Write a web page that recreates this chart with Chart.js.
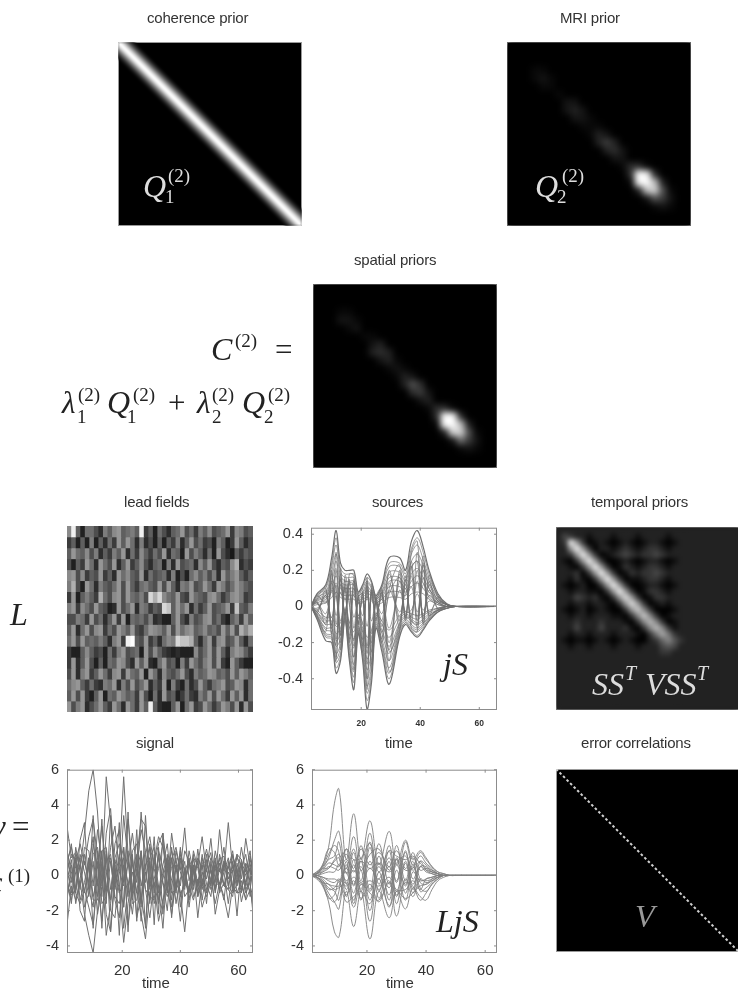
<!DOCTYPE html>
<html>
<head>
<meta charset="utf-8">
<script src="https://cdn.jsdelivr.net/npm/chart.js@4"></script>
<style>
  html, body { margin: 0; background: #fff; }
  #page { position: relative; width: 738px; height: 991px; overflow: hidden; filter: blur(0.45px); }
  .box { position: absolute; overflow: hidden; outline: 1px solid #999; outline-offset: -1px; }
  .box canvas, .plot canvas { display: block; }
  .plot { position: absolute; }
  .t { position: absolute; white-space: pre; line-height: 1; }
  .title { font-family: "Liberation Sans", sans-serif; color: #333; font-size: 15px; letter-spacing: -0.2px; }
  .math { font-family: "Liberation Serif", serif; }
  .it { font-style: italic; }
</style>
</head>
<body>
<div id="page"></div>
<script>
// grey levels are single hex digits, one character per cell
const leadFieldRows = [
  '9e62775386 9a6786e462 75367a5748 69567a49856',
  '4626282637 4a6a738352 6264836a57 4528624a635',
  '6a76958364 86a3749647 5a3762a586 372a5316465',
  '5264a73a75 a36a469536 7283a56739 6a53659b354',
  '9a59465a46 3a7965a375 6738252796 8583a68a646',
  '8b52a73865 7a5a647865 a5a6387a56 a74a857a865',
  '4a26864b75 9a5a7685db d976a54a76 59a7469a845',
  '8a4975a652 3a57a38746 5dc6a7a374 6a567a4c658',
  '55874a5736 a4a2767583 4226a53856 9a5742684a6',
  '6a37a59a47 5a86a547a9 86a5a79a67 9675a6a5b9b',
  '7a5a676863 8a4ef65a46 3798dccb63 7a49a56a637',
  '4226964527 48a5672a59 6432322295 7a5a638a964',
  '4a36a52627 6a953a6a32 7a56284a75 8a5a42a6422',
  '5a38a46a74 9a4a76a2a7 39657a5386 7a9675a6a86',
  '79a6474387 a385a57a36 4a2842735a 6478a56a937',
  '6a5a426a27 6a8674a527 3a56247438 6a5a74a6a37',
  'a58a357a64 a73a74a6e6 3226a27a45 a746a85a3a5'
];
const leadGreys = [15,25,32,45,60,78,95,110,125,138,150,175,195,215,240,255];

const mriRows = [
  '0000000000 0000000000 000',
  '0000000000 0000000000 000',
  '0000000000 0000000000 000',
  '0001100000 0000000000 000',
  '0001210000 0000000000 000',
  '0000110000 0000000000 000',
  '0000001000 0000000000 000',
  '0000000220 0000000000 000',
  '0000000232 0000000000 000',
  '0000000022 1000000000 000',
  '0000000001 1100000000 000',
  '0000000000 1320000000 000',
  '0000000000 0353000000 000',
  '0000000000 0034200000 000',
  '0000000000 0002200000 000',
  '0000000000 0000144100 000',
  '0000000000 000004fd40 000',
  '0000000000 000001dfa3 000',
  '0000000000 0000003ab6 100',
  '0000000000 0000000265 200',
  '0000000000 0000000012 100',
  '0000000000 0000000000 000',
  '0000000000 0000000000 000'
];

const spatialRows = [
  '0000000000 0000000000 000',
  '0000000000 0000000000 000',
  '0000000000 0000000000 000',
  '0001100000 0000000000 000',
  '0002210000 0000000000 000',
  '0000120000 0000000000 000',
  '0000001100 0000000000 000',
  '0000000230 0000000000 000',
  '0000000343 0000000000 000',
  '0000000023 1000000000 000',
  '0000000001 2100000000 000',
  '0000000000 1320000000 000',
  '0000000000 0364000000 000',
  '0000000000 0045200000 000',
  '0000000000 0002300000 000',
  '0000000000 0000144100 000',
  '0000000000 000004fe40 000',
  '0000000000 000001efa3 000',
  '0000000000 0000003bb6 100',
  '0000000000 0000000275 200',
  '0000000000 0000000012 100',
  '0000000000 0000000000 000',
  '0000000000 0000000000 000'
];
const imageGreys = [0,9,20,34,46,60,80,110,140,165,190,210,230,245,252,255];

const temporalRows = [
  '2222222222 2222222222 2222222222',
  '2432212221 2221222212 2222222222',
  '23e9301210 1210122101 2222222222',
  '229e930221 2321233212 2222222222',
  '2239e93012 3432334322 2222222222',
  '21039e9300 1210122101 2222222222',
  '221039e930 1321233212 2222222222',
  '2223039e93 0132334322 2222222222',
  '22131039e9 3011233212 2222222222',
  '210120039e 9300122101 2222222222',
  '2212211039 e930133212 2222222222',
  '2224323103 9d93013322 2222222222',
  '2212212210 39d9301212 2222222222',
  '2101201210 039c830001 2222222222',
  '2212212221 1038c83012 2222222222',
  '2223222322 21038b8301 2222222222',
  '2224222422 231038b831 2222222222',
  '2212212221 2221037a73 2222222222',
  '2101101210 1210023685 3222222222',
  '2212212221 2221222454 2222222222',
  '2222222222 2222222332 2222222222',
  '2222222222 2222222222 2222222222',
  '2222222222 2222222222 2222222222',
  '2222222222 2222222222 2222222222',
  '2222222222 2222222222 2222222222',
  '2222222222 2222222222 2222222222',
  '2222222222 2222222222 2222222222',
  '2222222222 2222222222 2222222222',
  '2222222222 2222222222 2222222222',
  '2222222222 2222222222 2222222222'
];
const temporalGreys = [0,14,34,54,72,88,102,119,136,153,170,187,204,221,238,255];

// both diagonal images: corner to corner on a unit scale
const diagonal = [{x: 0, y: 0}, {x: 1, y: 1}];
// first dataset is painted last, so narrowest and brightest first
const coherenceGreys = ['#fff', '#e0e0e0', '#b8b8b8', '#8a8a8a', '#5c5c5c', '#333', '#141414'];
const coherenceWidths = [3, 6, 9, 12, 15.5, 19, 23];

const sourceTicksX = [20, 40, 60];
const sourceTicksY = [0.4, 0.2, 0, -0.2, -0.4];
const signalTicksX = [20, 40, 60];
const signalTicksY = [6, 4, 2, 0, -2, -4];

const sourceTime = [3,5,8,10,11.5,13,14.5,16,17.5,19,20.5,22,23.5,25,27,29.5,33,35,37,39,41,43,46,49,52,66];
const sourceCurves = [
  [0,.07,.12,.27,.42,.24,.20,.20,.20,.08,.12,.18,.14,.06,.12,.27,.27,.20,.36,.42,.33,.20,.07,.015,0,0],
  [0,-.07,-.19,-.20,-.37,-.30,-.08,-.30,-.46,-.15,-.30,-.57,-.42,-.12,-.25,-.43,-.17,-.10,-.14,-.17,-.13,-.08,-.03,-.01,0,0],
  [0,.065,.11,.24,.38,.21,.18,.18,.18,.07,.11,.16,.13,.05,.11,.24,.24,.18,.32,.38,.30,.18,.06,.01,0,0],
  [0,.06,.10,.22,.34,.19,.16,.16,.16,.06,.10,.14,.11,.05,.10,.22,.22,.16,.29,.34,.26,.16,.06,.01,0,0],
  [0,.05,.08,.19,.29,.17,.14,.14,.14,.06,.08,.13,.10,.04,.08,.19,.19,.14,.25,.29,.23,.14,.05,.01,0,0],
  [0,.04,.07,.16,.25,.14,.12,.12,.12,.05,.07,.11,.08,.04,.07,.16,.16,.12,.22,.25,.20,.12,.04,.01,0,0],
  [0,.035,.06,.14,.21,.12,.10,.10,.10,.04,.06,.09,.07,.03,.06,.14,.14,.10,.18,.21,.16,.10,.03,.01,0,0],
  [0,.03,.05,.11,.17,.10,.08,.08,.08,.03,.05,.07,.06,.02,.05,.11,.11,.08,.14,.17,.13,.08,.03,.01,0,0],
  [0,.02,.04,.08,.13,.07,.06,.06,.06,.02,.04,.05,.04,.02,.04,.08,.08,.06,.11,.13,.10,.06,.02,0,0,0],
  [0,.01,.02,.05,.08,.05,.04,.04,.04,.02,.02,.04,.03,.01,.02,.05,.05,.04,.07,.08,.07,.04,.01,0,0,0],
  [0,-.065,-.17,-.18,-.34,-.28,-.07,-.28,-.42,-.14,-.28,-.52,-.39,-.11,-.23,-.40,-.16,-.09,-.13,-.16,-.12,-.07,-.03,-.01,0,0],
  [0,-.06,-.16,-.17,-.31,-.26,-.07,-.26,-.39,-.13,-.26,-.48,-.36,-.10,-.21,-.37,-.14,-.09,-.12,-.14,-.11,-.07,-.03,-.01,0,0],
  [0,-.055,-.15,-.16,-.29,-.23,-.06,-.23,-.36,-.12,-.23,-.44,-.33,-.09,-.20,-.34,-.13,-.08,-.11,-.13,-.10,-.06,-.02,-.01,0,0],
  [0,-.05,-.13,-.14,-.26,-.21,-.06,-.21,-.32,-.11,-.21,-.40,-.29,-.08,-.18,-.30,-.12,-.07,-.10,-.12,-.09,-.06,-.02,-.01,0,0],
  [0,-.045,-.12,-.12,-.22,-.18,-.05,-.18,-.28,-.09,-.18,-.35,-.25,-.07,-.15,-.26,-.10,-.06,-.08,-.10,-.08,-.05,-.02,0,0,0],
  [0,-.04,-.10,-.10,-.19,-.15,-.04,-.15,-.23,-.08,-.15,-.29,-.21,-.06,-.13,-.22,-.09,-.05,-.07,-.09,-.07,-.04,-.02,0,0,0],
  [0,-.03,-.08,-.08,-.15,-.12,-.03,-.12,-.18,-.06,-.12,-.23,-.17,-.05,-.10,-.17,-.07,-.04,-.06,-.07,-.05,-.03,-.01,0,0,0],
  [0,-.02,-.06,-.06,-.11,-.09,-.02,-.09,-.14,-.05,-.09,-.17,-.13,-.04,-.08,-.13,-.05,-.03,-.04,-.05,-.04,-.02,-.01,0,0,0],
  [0,.05,.10,-.15,.30,-.20,.15,-.20,.15,-.10,.08,-.40,.10,-.08,.09,-.30,.20,-.07,.25,-.12,.23,-.05,.05,.01,0,0],
  [0,-.05,-.14,.20,-.28,.18,-.06,.15,-.35,.06,-.22,.14,-.32,.05,-.18,.20,-.12,.15,-.10,.30,-.09,.14,-.02,0,0,0],
  [0,.04,.08,-.10,.20,-.14,.11,-.12,.10,-.07,.05,-.26,.07,-.05,.06,-.20,.14,-.05,.17,-.08,.16,-.03,.03,.01,0,0],
  [0,-.03,-.09,.13,-.18,.12,-.04,.10,-.22,.04,-.14,.09,-.20,.03,-.11,.13,-.08,.10,-.06,.20,-.06,.09,-.01,0,0,0],
  [0,.06,.02,.18,-.10,.16,-.05,.14,-.12,.05,-.10,.12,-.15,.04,-.08,.18,-.06,.14,.22,-.06,.24,.10,.04,.01,0,0],
  [0,-.02,.06,-.12,.12,-.16,.10,-.18,.14,-.09,.07,-.22,.09,-.07,.08,-.24,.18,-.06,-.05,.14,-.05,.06,.02,0,0,0],
  [0,.02,-.04,.09,-.05,.08,-.02,.07,-.06,.02,-.05,.06,-.08,.02,-.04,.09,-.03,.07,.11,-.03,.12,.05,.02,0,0,0],
  [0,-.01,.03,-.06,.06,-.08,.05,-.09,.07,-.05,.03,-.11,.05,-.04,.04,-.12,.09,-.03,-.02,.07,-.02,.03,.01,0,0,0],
  [0,.03,-.10,.14,.10,-.24,.17,.02,-.28,.07,.10,-.46,.12,.03,-.20,.10,.23,-.08,.30,.36,-.10,.17,.05,.01,0,0],
  [0,-.04,.09,-.16,-.30,.21,-.07,.18,.17,-.13,-.25,.16,-.36,.05,.10,-.36,-.14,.17,-.12,-.14,.28,-.07,-.02,0,0,0],
  [0,.02,-.07,.10,.06,-.16,.12,.01,-.19,.05,.07,-.32,.08,.02,-.14,.07,.16,-.06,.21,.25,-.07,.12,.03,0,0,0],
  [0,-.03,.06,-.11,-.21,.15,-.05,.13,.12,-.09,-.18,.11,-.25,.03,.07,-.25,-.10,.12,-.08,-.10,.20,-.05,-.01,0,0,0]
];

const signalTime = [1,2.5,4,5.5,7,8.5,10,11.5,13,14.5,16,17.5,19,20.5,22,23.5,25,26.5,28,29.5,31,32.5,34,35.5,37,38.5,40,41.5,43,44.5,46,47.5,49,50.5,52,53.5,55,56.5,58,59.5,61,62.5,64,65];
const signalCurves = [
  [2.8,1.0,1.3,.4,2.4,4.8,6.0,3.6,-.4,5.6,3.0,-.6,.9,5.6,1.2,-.8,1.0,3.2,2.8,-.6,.8,2.2,1.6,.4,1.4,.2,1.2,-.4,.6,.9,-.5,.7,.8,-.3,.4,.9,1.1,-.2,.3,1.0,.6,-.4,.9,.2],
  [-2.8,-.6,-1.4,-.3,-2.2,-3.4,-4.4,-2.0,.6,-3.4,-1.6,.4,-.8,-3.8,-1.6,.2,-1.0,-2.2,-3.6,-.9,-.4,-2.6,-1.4,-.6,-2.2,-.4,-1.0,-3.2,-.6,-1.4,-.2,-1.8,-.9,-.2,-1.6,-.4,-1.2,-2.4,-.6,-1.0,-.3,-1.4,-.8,-1.8],
  [1.2,-.4,.8,1.8,.6,2.2,3.2,1.0,-1.2,2.4,3.8,.2,-1.0,3.4,.8,-1.4,.4,2.6,1.4,-.8,.6,1.8,2.4,.2,.9,1.6,.3,2.7,-.3,1.0,.6,2.2,.2,2.1,-.4,2.6,.3,3.0,.4,1.2,-.2,2.1,.5,1.0],
  [-1.4,.6,-1.0,-1.6,-.8,-1.8,-2.8,-.4,1.4,-2.2,-3.2,-.2,1.2,-3.0,-.6,1.0,-2.4,-1.2,-2.8,.8,-1.6,-.6,-3.0,.4,-1.8,-.4,-2.6,.2,-1.4,.4,-2.4,-.2,-1.0,.6,-2.2,-.8,.2,-1.6,.3,-2.3,.6,-1.0,-.4,-2.2],
  [.8,1.6,.4,-.8,1.6,1.4,-.6,2.6,.8,-.9,1.6,2.8,.2,-.6,3.2,.6,-.4,3.6,.4,1.8,-.6,.4,1.8,-.6,2.4,.6,-.6,1.4,.8,-.8,1.5,-.4,1.2,-.6,1.4,.2,1.6,-.6,1.2,-.2,1.6,.2,1.4,-.2],
  [-.6,-1.4,.2,1.0,-1.8,-1.0,.8,-2.2,-.6,1.2,-2.0,-2.4,.4,1.0,-2.8,-.8,.8,-2.6,.6,-1.6,1.0,-.6,-1.6,1.2,-1.0,-.8,1.0,-1.2,-.8,1.2,-1.0,.6,-1.6,.8,-.6,-.4,-1.4,.8,-.9,.4,-1.5,-.4,-.9,.8],
  [1.4,.2,-1.0,1.2,.2,-1.2,1.8,.4,2.8,.2,-1.4,1.8,2.6,-.4,.6,2.4,.4,-1.6,1.2,2.2,.4,-1.0,.6,1.8,-.8,1.4,.2,-.8,1.4,.2,-.6,1.2,-.2,1.0,.4,-.8,.8,.4,1.4,-.6,.4,1.2,-.4,.9],
  [-1.0,-.2,1.2,-1.4,-.4,1.0,-1.2,-.2,-2.6,.2,1.0,-1.4,-2.4,.6,-.4,-2.2,.2,1.4,-.8,-2.4,-.2,1.0,-.4,-2.0,1.0,-1.6,-.2,.8,-1.8,.2,.8,-1.4,.4,-.8,-.2,1.0,-.6,-.8,-1.2,.7,-.6,-1.3,.6,-.8],
  [.4,-1.0,1.6,.2,-1.0,.6,2.2,-1.2,1.4,1.6,-.8,1.0,1.8,.4,-1.2,1.4,1.8,-.6,.6,1.0,1.6,-1.4,.2,1.0,.4,-1.0,1.4,.2,.9,-.6,1.0,.4,1.5,.2,-.8,1.2,.2,1.0,-.6,1.2,.9,-.6,1.1,.4],
  [-.3,.9,-1.6,-.2,1.2,-.8,-1.8,1.4,-1.6,-1.2,.8,-1.2,-1.6,-.2,1.4,-1.6,-1.4,.8,-.8,-1.2,-1.4,1.2,-.4,-1.2,-.2,1.0,-1.2,-.4,-.9,.6,-1.2,-.4,-1.2,-.4,1.0,-1.0,-.4,-.8,.8,-1.0,-.9,.6,-1.2,-.6],
  [.2,1.2,.9,-.6,.8,-.4,1.2,1.6,-.6,.8,1.2,-.8,.6,1.6,-.8,1.0,-1.0,1.2,-.4,1.6,-1.0,1.4,.4,-1.0,1.0,-.6,.8,.4,-1.0,1.4,.4,-.8,.6,1.3,-1.0,.7,-.6,.4,1.1,.3,-1.0,.7,.2,-.4],
  [-.5,-1.1,-.8,.6,-.9,.5,-1.4,-1.4,.8,-.6,-1.4,.9,-.5,-1.8,1.0,-1.2,1.2,-1.4,.2,-1.4,1.2,-1.6,-.2,1.0,-1.4,.6,-1.0,-.6,.8,-1.2,-.6,1.0,-.5,-1.2,.8,-.9,.7,-.6,-1.0,-.5,.9,-.8,-.3,.5],
  [.6,1.8,-.8,2.0,3.0,-.8,3.4,-.6,3.2,-1.6,3.4,-.4,3.0,-1.8,3.6,-1.0,2.6,-1.8,3.4,-.6,2.2,-2.2,2.4,-1.0,1.6,-.8,1.6,-.6,1.0,-.4,.8,-.6,.9,-.4,.6,-.5,.8,-.2,.5,-.4,.7,.2,-.3,.4],
  [-.2,-1.6,1.0,-2.0,-2.6,1.0,-3.0,.8,-3.0,1.4,-3.2,.6,-3.4,1.6,-3.2,1.2,-2.6,1.4,-3.0,1.0,-2.8,1.6,-2.2,.8,-2.4,.6,-1.8,.4,-.9,.6,-1.2,.2,-.8,.3,-.9,.4,-.6,.2,-.7,.3,-.8,.1,.4,-.6]
];

const ljsTime = [1,3,5,7,9,10.5,13,15.5,18,21,24,27.5,30,33,35.5,38,40,42,44,46,48,50,64];
const ljsCurves = [
  [0,.2,.6,1.6,4.1,4.9,.9,3.5,.9,3.1,.6,2.5,.6,2.0,.9,1.4,1.0,.5,.2,.1,0,0,0],
  [0,-.2,-.6,-1.5,-3.2,-3.5,-.9,-2.9,-.9,-3.6,-.9,-2.4,-.9,-1.9,-.7,-1.2,-1.4,-.8,-.3,-.1,0,0,0],
  [0,.2,.5,1.0,2.0,2.5,.1,1.5,-.3,2.4,-.5,1.7,-.4,1.9,.6,1.3,.9,.5,.2,.1,0,0,0],
  [0,-.1,-.4,-1.0,-1.5,-1.9,.8,-1.6,1.0,-2.0,1.1,-1.4,1.0,-.6,.8,-.9,-.7,-.4,-.1,0,0,0,0],
  [0,.1,.5,1.2,1.7,1.3,-1.2,.9,-1.4,1.6,-1.3,.8,-1.6,.7,-1.0,.5,.5,.2,.1,0,0,0,0],
  [0,-.1,-.5,-1.2,-1.5,-.9,1.5,-.6,1.7,-.8,1.8,-.5,1.7,-.3,1.3,-.2,-.3,-.2,0,0,0,0,0],
  [0,.1,.4,.9,1.1,1.9,-.5,1.3,-.8,1.9,-.9,1.4,-1.2,1.4,-.8,.8,.6,.3,.1,0,0,0,0],
  [0,-.1,-.3,-.7,-.9,-1.4,.6,-1.0,.8,-1.4,.7,-1.1,.9,-1.0,.5,-.7,-.9,-.5,-.2,0,0,0,0],
  [0,.1,.3,.7,.6,.5,1.2,.4,1.5,.6,1.3,.5,1.4,.4,1.0,.3,.4,.3,.1,0,0,0,0],
  [0,-.1,-.3,-.8,-.7,-.4,-1.1,-.3,-1.3,-.5,-1.5,-.3,-2.3,-.2,-1.2,-.2,-.4,-.3,-.1,0,0,0,0],
  [0,.1,.2,.4,.8,1.0,-.8,.6,-.9,.8,-.8,.5,-.9,.8,-.5,.5,.3,.2,.1,0,0,0,0],
  [0,0,-.2,-.5,-.6,-.6,.4,-.5,.5,-.9,.5,-.7,.6,-.5,.6,-.4,-.5,-.3,-.1,0,0,0,0],
  [0,0,.2,.5,.4,.3,.9,.2,.8,.4,.7,.2,.7,1.1,.3,.8,.3,.1,0,0,0,0,0],
  [0,0,-.1,-.3,-.4,-.2,-.6,-.1,-.5,-.3,-.6,-.1,-.8,-.8,-.3,-.8,-.2,-.1,0,0,0,0,0],
  [0,0,.1,.2,.2,.6,-.3,.3,-.4,.4,-.2,1.0,-.3,1.3,-.2,.5,.2,.1,0,0,0,0,0],
  [0,0,-.1,-.2,-.2,-.3,.2,-1.4,.3,-2.6,.2,-1.8,.3,-1.4,.2,-.3,-.2,-.1,0,0,0,0,0],
  [0,.1,.6,1.5,1.3,.6,1.5,.9,1.0,1.8,.2,1.4,1.1,.9,1.1,.7,.4,.2,.1,0,0,0,0],
  [0,-.1,-.5,-1.3,-1.1,-.3,-1.5,-1.2,-.9,-1.6,-.2,-1.7,-.9,-1.3,-1.0,-.6,-.5,-.2,-.1,0,0,0,0],
  [0,.1,.4,.4,.9,1.2,.4,2.2,.3,1.2,1.5,.3,.9,.3,.4,1.1,.7,.4,.1,0,0,0,0],
  [0,-.1,-.4,-.5,-.8,-.7,-.4,-1.8,-.5,-1.0,-1.4,-.4,-1.1,-.4,-.6,-1.4,-1.0,-.5,-.2,0,0,0,0]
];

function greyColor(digit, levels) {
  const v = levels[parseInt(digit, 16)];
  return `rgb(${v},${v},${v})`;
}

const page = document.getElementById('page');

function addText(x, baseline, str, size, color, italic) {
  const el = document.createElement('div');
  el.className = 't math' + (italic ? ' it' : '');
  el.textContent = str;
  el.style.left = x + 'px';
  el.style.top = (baseline - size * 0.84) + 'px';
  el.style.fontSize = size + 'px';
  el.style.color = color;
  page.appendChild(el);
}

function addTitle(x, baseline, str) {
  const el = document.createElement('div');
  el.className = 't title';
  el.textContent = str;
  el.style.left = x + 'px';
  el.style.top = (baseline - 12.8) + 'px';
  page.appendChild(el);
}

function imageBox(left, top, size, bg, blur) {
  const box = document.createElement('div');
  box.className = 'box';
  box.style.cssText = `left:${left}px;top:${top}px;width:${size}px;height:${size}px;background:${bg}`;
  const canvas = document.createElement('canvas');
  canvas.width = size;
  canvas.height = size;
  canvas.style.filter = `blur(${blur}px)`;
  box.appendChild(canvas);
  page.appendChild(box);
  return canvas;
}

// image panels: one stacked bar per column, one dataset per row
function heatmap(rows, levels, left, top, size, bg, blur) {
  const clean = rows.map(r => r.replace(/ /g, ''));
  const cols = Math.max(...clean.map(r => r.length));
  const labels = Array.from({length: cols}, (_, i) => i);
  new Chart(imageBox(left, top, size, bg, blur), {
    type: 'bar',
    data: {
      labels: labels,
      datasets: clean.map(r => ({
        data: labels.map(() => 1),
        backgroundColor: labels.map(i => greyColor(r[i] || '0', levels)),
        barPercentage: 1,
        categoryPercentage: 1
      }))
    },
    options: {
      responsive: false,
      animation: false,
      layout: {padding: 0},
      plugins: {legend: {display: false}, tooltip: {enabled: false}},
      scales: {
        x: {stacked: true, display: false},
        y: {stacked: true, display: false, reverse: true, min: 0, max: rows.length}
      }
    }
  });
}

function diagonalImage(datasets, left, top, size, blur) {
  new Chart(imageBox(left, top, size, '#000', blur), {
    type: 'scatter',
    data: {datasets: datasets},
    options: {
      responsive: false,
      animation: false,
      layout: {padding: 0},
      plugins: {legend: {display: false}, tooltip: {enabled: false}},
      scales: {
        x: {display: false, min: 0, max: 1},
        y: {display: false, min: 0, max: 1, reverse: true}
      }
    }
  });
}

// gnuplot style frame with the ticks pointing inwards on all four sides
const framePlugin = {
  id: 'frame',
  afterDatasetsDraw(chart) {
    const {ctx, chartArea: a, scales} = chart;
    ctx.save();
    ctx.strokeStyle = '#8c8c8c';
    ctx.lineWidth = 1;
    ctx.strokeRect(a.left + .5, a.top + .5, a.right - a.left - 1, a.bottom - a.top - 1);
    ctx.beginPath();
    scales.x.ticks.forEach(t => {
      const px = scales.x.getPixelForValue(t.value);
      ctx.moveTo(px, a.bottom); ctx.lineTo(px, a.bottom - 3);
      ctx.moveTo(px, a.top); ctx.lineTo(px, a.top + 3);
    });
    scales.y.ticks.forEach(t => {
      const py = scales.y.getPixelForValue(t.value);
      ctx.moveTo(a.left, py); ctx.lineTo(a.left + 3, py);
      ctx.moveTo(a.right, py); ctx.lineTo(a.right - 3, py);
    });
    ctx.stroke();
    ctx.restore();
  }
};

function linePlot(o) {
  const wrap = document.createElement('div');
  wrap.className = 'plot';
  const ml = 50, mt = 8, mr = 8, mb = 32;
  wrap.style.cssText = `left:${o.left - ml}px;top:${o.top - mt}px`;
  const canvas = document.createElement('canvas');
  canvas.width = o.width + ml + mr;
  canvas.height = o.height + mt + mb;
  wrap.appendChild(canvas);
  page.appendChild(wrap);
  new Chart(canvas, {
    type: 'scatter',
    plugins: [framePlugin],
    data: {
      datasets: o.curves.map((c, k) => ({
        data: c.map((v, i) => ({x: o.time[i], y: v})),
        showLine: true,
        pointRadius: 0,
        borderColor: o.color,
        borderWidth: k < o.heavy ? o.lineWidth * 1.7 : o.lineWidth,
        tension: o.tension
      }))
    },
    options: {
      responsive: false,
      animation: false,
      layout: {padding: {top: mt, right: mr, left: 0, bottom: 0}},
      plugins: {legend: {display: false}, tooltip: {enabled: false}},
      scales: {
        x: {
          type: 'linear',
          min: o.xMin, max: o.xMax,
          afterBuildTicks: s => { s.ticks = o.xTicks.map(v => ({value: v})); },
          afterFit: s => { s.height = mb; },
          grid: {display: false},
          border: {display: false},
          ticks: {
            autoSkip: false, maxRotation: 0, padding: o.xPad, color: '#333',
            font: {family: 'Liberation Sans', size: o.xFont, weight: o.xWeight}
          }
        },
        y: {
          type: 'linear',
          min: o.yMin, max: o.yMax,
          afterBuildTicks: s => { s.ticks = o.yTicks.map(v => ({value: v})); },
          afterFit: s => { s.width = ml; },
          grid: {display: false},
          border: {display: false},
          ticks: {
            autoSkip: false, padding: 0, color: '#333',
            font: {family: 'Liberation Sans', size: 14.5},
            callback: v => String(v)
          }
        }
      }
    }
  });
}

// top row
addTitle(147, 23, 'coherence prior');
diagonalImage(coherenceWidths.map((w, i) => ({
  data: diagonal, showLine: true, pointRadius: 0,
  borderColor: coherenceGreys[i], borderWidth: w
})), 118, 42, 184, 1.3);
addText(143, 197, 'Q', 32, '#ddd', true);
addText(168, 182, '(2)', 19, '#ddd');
addText(165, 203, '1', 19, '#ddd');

addTitle(560, 23, 'MRI prior');
heatmap(mriRows, imageGreys, 507, 42, 184, '#000', 3.2);
addText(535, 197, 'Q', 32, '#ddd', true);
addText(562, 182, '(2)', 19, '#ddd');
addText(557, 203, '2', 19, '#ddd');

// second row
addTitle(354, 265, 'spatial priors');
heatmap(spatialRows, imageGreys, 313, 284, 184, '#000', 3.2);
addText(211, 360, 'C', 32, '#222', true);
addText(235, 347, '(2)', 19, '#222');
addText(275, 360, '=', 31, '#222');
addText(62, 413, 'λ', 31, '#222', true);
addText(78, 401, '(2)', 19, '#222');
addText(77, 423, '1', 19, '#222');
addText(107, 413, 'Q', 32, '#222', true);
addText(133, 401, '(2)', 19, '#222');
addText(127, 423, '1', 19, '#222');
addText(168, 413, '+', 31, '#222');
addText(197, 413, 'λ', 31, '#222', true);
addText(212, 401, '(2)', 19, '#222');
addText(212, 423, '2', 19, '#222');
addText(242, 413, 'Q', 32, '#222', true);
addText(268, 401, '(2)', 19, '#222');
addText(264, 423, '2', 19, '#222');

// third row
addTitle(124, 507, 'lead fields');
heatmap(leadFieldRows, leadGreys, 67, 526, 186, '#666', 0.6);
addText(10, 625, 'L', 32, '#222', true);

addTitle(372, 507, 'sources');
linePlot({
  left: 311, top: 527, width: 186, height: 183,
  time: sourceTime, curves: sourceCurves, color: '#707070', lineWidth: 0.7, heavy: 2, tension: 0.35,
  xMin: 3, xMax: 66, yMin: -0.573, yMax: 0.436,
  xTicks: sourceTicksX, yTicks: sourceTicksY, xFont: 8.5, xWeight: 'bold', xPad: 1
});
addText(443, 675, 'jS', 32, '#222', true);

addTitle(591, 507, 'temporal priors');
heatmap(temporalRows, temporalGreys, 556, 527, 183, '#222', 2.6);
addText(592, 695, 'SS', 32, '#ddd', true);
addText(625, 680, 'T', 20, '#ddd', true);
addText(645, 695, 'VSS', 32, '#ddd', true);
addText(697, 680, 'T', 20, '#ddd', true);

// bottom row
addTitle(136, 748, 'signal');
linePlot({
  left: 67, top: 769, width: 186, height: 184,
  time: signalTime, curves: signalCurves, color: '#707070', lineWidth: 1, heavy: 0, tension: 0,
  xMin: 1, xMax: 65, yMin: -4.4, yMax: 6,
  xTicks: signalTicksX, yTicks: signalTicksY, xFont: 15, xWeight: 'normal', xPad: 1
});
addTitle(142, 988, 'time');
addText(-8, 837, 'y', 31, '#222', true);
addText(12, 837, '=', 31, '#222');
addText(-10, 893, 'ε', 31, '#222', true);
addText(8, 882, '(1)', 19, '#222');

addTitle(385, 748, 'time');
linePlot({
  left: 312, top: 769, width: 185, height: 184,
  time: ljsTime, curves: ljsCurves, color: '#808080', lineWidth: 0.9, heavy: 0, tension: 0.4,
  xMin: 1.4, xMax: 64, yMin: -4.4, yMax: 6,
  xTicks: signalTicksX, yTicks: signalTicksY, xFont: 15, xWeight: 'normal', xPad: 1
});
addTitle(386, 988, 'time');
addText(436, 932, 'LjS', 32, '#222', true);

addTitle(581, 748, 'error correlations');
diagonalImage([{
  data: diagonal, showLine: true, pointRadius: 0,
  borderColor: '#d0d0d0', borderWidth: 2, borderDash: [2.6, 2.4]
}], 556, 769, 183, 0.5);
addText(635, 927, 'V', 32, '#999', true);
</script>
</body>
</html>
